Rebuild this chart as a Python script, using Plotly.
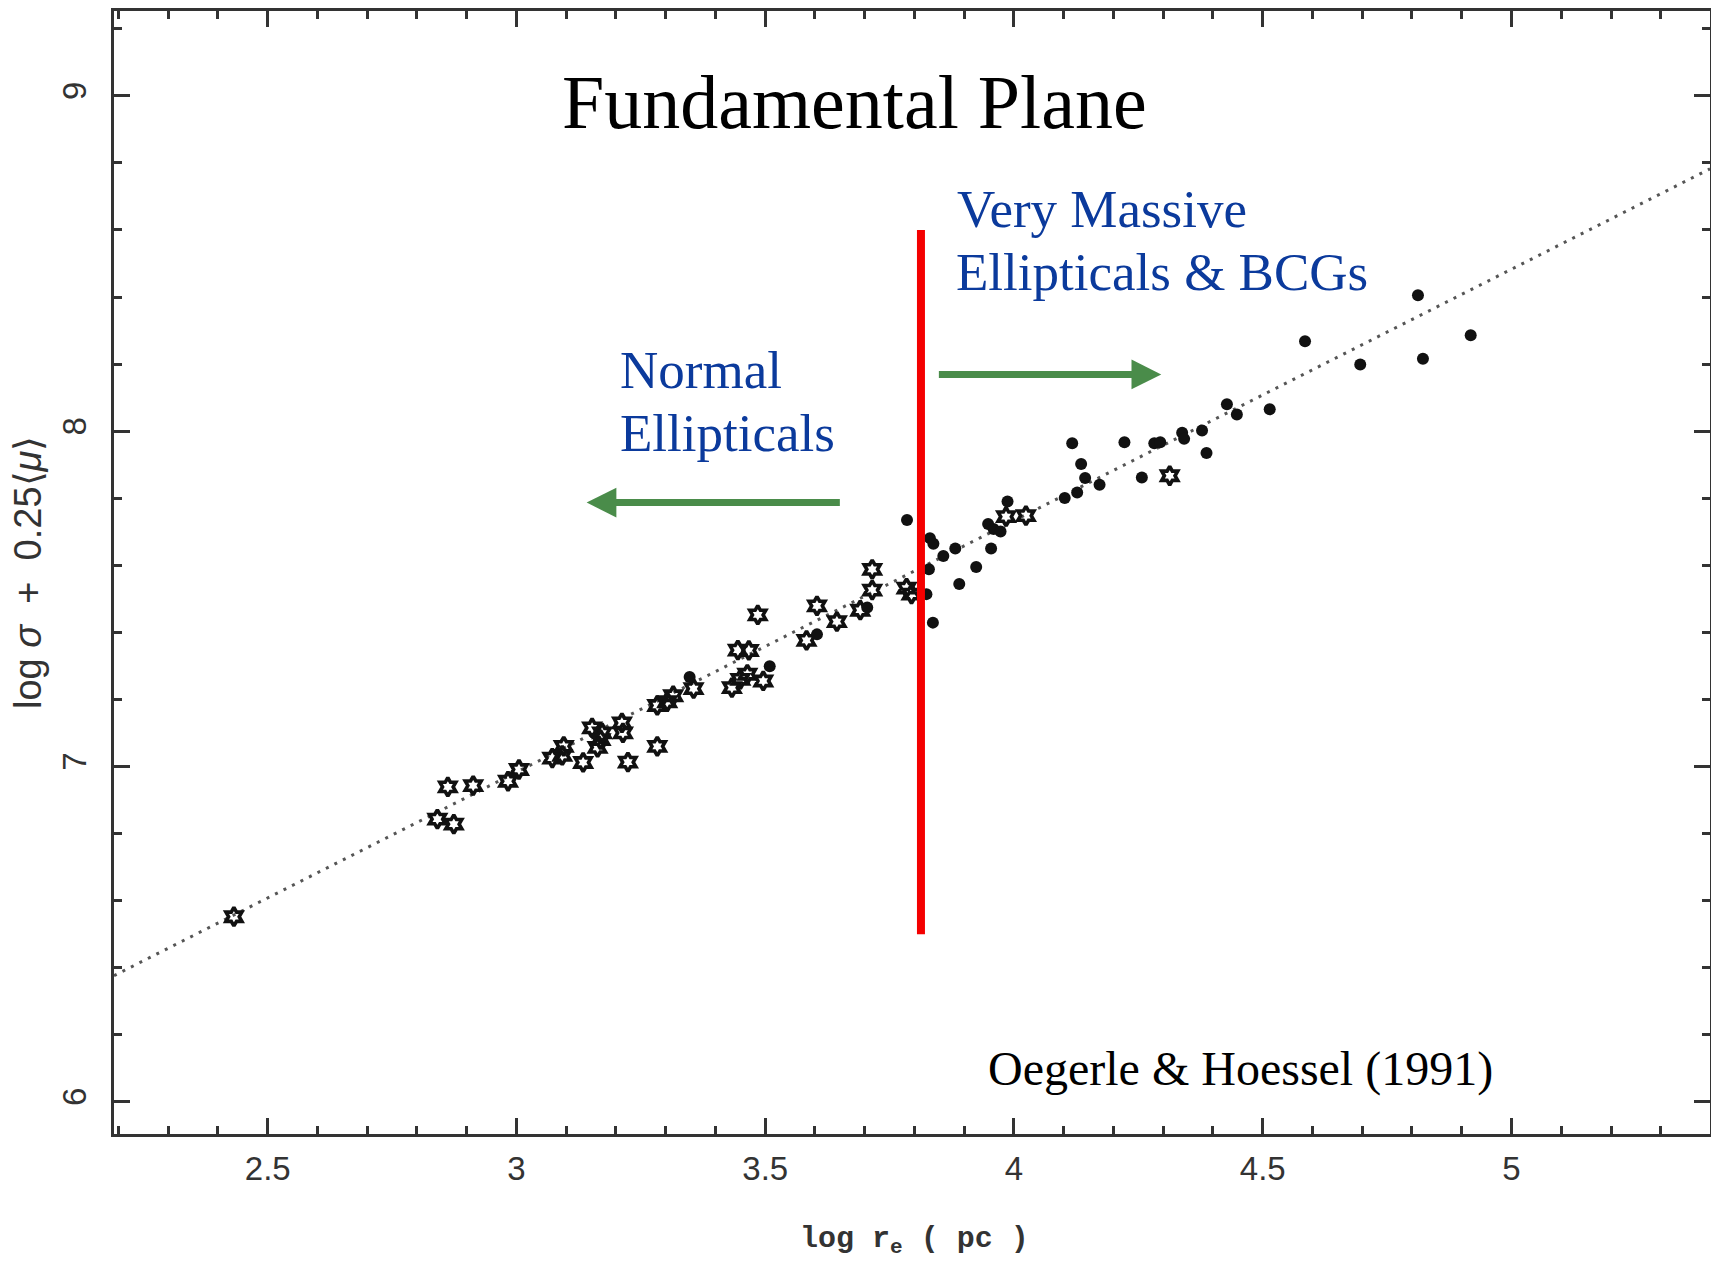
import plotly.graph_objects as go

# ---- data: log r_e (pc) vs log sigma + 0.25<mu> ----
# Normal ellipticals (open hexagrams)
normal_log_re = [2.432, 2.841, 2.874, 2.862, 2.913, 2.983, 3.005, 3.072, 3.092, 3.095,
                 3.134, 3.152, 3.172, 3.163, 3.169, 3.212, 3.214, 3.224, 3.283, 3.283,
                 3.303, 3.315, 3.356, 3.433, 3.450, 3.464, 3.496, 3.445, 3.467, 3.485,
                 3.583, 3.604, 3.644, 3.691, 3.715, 3.715, 3.784, 3.794, 3.984, 4.024,
                 4.313]
normal_fp = [6.552, 6.843, 6.828, 6.939, 6.943, 6.956, 6.991, 7.025, 7.033, 7.060,
             7.012, 7.115, 7.100, 7.057, 7.080, 7.130, 7.100, 7.013, 7.060, 7.182,
             7.193, 7.211, 7.232, 7.235, 7.260, 7.275, 7.255, 7.347, 7.346, 7.452,
             7.376, 7.479, 7.432, 7.466, 7.588, 7.526, 7.532, 7.514, 7.745, 7.748,
             7.867]

# Brightest cluster galaxies (filled circles)
bcg_log_re = [3.348, 3.509, 3.604, 3.705, 3.785, 3.824, 3.831, 3.838, 3.829, 3.837,
              3.858, 3.882, 3.890, 3.924, 3.954, 3.948, 3.959, 3.973, 3.987, 4.102,
              4.127, 4.172, 4.143, 4.135, 4.117, 4.222, 4.257, 4.282, 4.294, 4.338,
              4.342, 4.378, 4.387, 4.428, 4.448, 4.514, 4.585, 4.696, 4.812, 4.822,
              4.918]
bcg_fp = [7.267, 7.299, 7.394, 7.474, 7.735, 7.514, 7.681, 7.664, 7.588, 7.429,
          7.628, 7.650, 7.544, 7.595, 7.650, 7.723, 7.708, 7.701, 7.790, 7.801,
          7.817, 7.840, 7.860, 7.902, 7.964, 7.967, 7.862, 7.964, 7.967, 7.995,
          7.977, 8.002, 7.935, 8.080, 8.050, 8.065, 8.268, 8.199, 8.405, 8.216,
          8.286]

# Fitted plane: y = slope * x + intercept
fit_slope = 0.75
fit_intercept = 4.733

# Axes
x_tickvals = [2.5, 3, 3.5, 4, 4.5, 5]
x_ticktext = ["2.5", "3", "3.5", "4", "4.5", "5"]
y_tickvals = [6, 7, 8, 9]
y_ticktext = ["6", "7", "8", "9"]
X_RANGE = [2.191, 5.399]
Y_RANGE = [5.904, 9.253]

# Divider between the two populations
split_log_re = 3.813
split_span = [6.5, 8.6]

# ---- layout geometry ----
W, H = 1711, 1263
M_L, M_R, M_T, M_B = 114, 1, 11, 129


def paper_x(px):
    return (px - M_L) / (W - M_L - M_R)


def paper_y(py):
    return (H - M_B - py) / (H - M_T - M_B)


AXIS_COLOR = "#333333"
BLUE = "#0b3a9c"
GREEN = "#4a8c4a"
RED = "#f40000"
INK = "#111111"

fit_x = X_RANGE
fit_y = [fit_slope * v + fit_intercept for v in fit_x]

fig = go.Figure()

fig.add_trace(go.Scatter(
    x=fit_x, y=fit_y, mode="lines",
    line=dict(color="#555555", width=3, dash="3px,6.5px"),
    hoverinfo="skip", showlegend=False,
))

fig.add_trace(go.Scatter(
    x=normal_log_re, y=normal_fp, mode="markers", name="Normal Ellipticals",
    marker=dict(symbol="hexagram-open", size=14, color=INK, line=dict(width=3.6, color=INK)),
    showlegend=False,
))

fig.add_trace(go.Scatter(
    x=bcg_log_re, y=bcg_fp, mode="markers", name="Very Massive Ellipticals & BCGs",
    marker=dict(symbol="circle", size=12, color=INK, line=dict(width=0)),
    showlegend=False,
))

# red divider
fig.add_shape(type="line", xref="x", yref="y",
              x0=split_log_re, x1=split_log_re, y0=split_span[0], y1=split_span[1],
              line=dict(color=RED, width=8))

annotations = []

# direction arrows
annotations.append(dict(
    xref="x", yref="y", axref="x", ayref="y",
    x=4.296, y=8.169, ax=3.846, ay=8.169, text="",
    showarrow=True, arrowhead=2, arrowsize=0.85, arrowwidth=7, arrowcolor=GREEN,
))
annotations.append(dict(
    xref="x", yref="y", axref="x", ayref="y",
    x=3.141, y=7.787, ax=3.653, ay=7.787, text="",
    showarrow=True, arrowhead=2, arrowsize=0.85, arrowwidth=7, arrowcolor=GREEN,
))


def label(text, px, py, size, color, family="Liberation Serif", anchor="left"):
    annotations.append(dict(
        xref="paper", yref="paper", x=paper_x(px), y=paper_y(py),
        xanchor=anchor, yanchor="middle", text=text, showarrow=False,
        font=dict(family=family, size=size, color=color),
    ))


label("Fundamental Plane", 854, 102, 76, "#000000", anchor="center")
label("Very Massive", 955, 209, 53, BLUE)
label("Ellipticals &amp; BCGs", 954, 272, 53, BLUE)
label("Normal", 618, 370, 53, BLUE)
label("Ellipticals", 618, 433, 53, BLUE)
label("Oegerle &amp; Hoessel (1991)", 986, 1069, 48, "#000000")

# axis titles
annotations.append(dict(
    xref="paper", yref="paper", x=paper_x(915), y=paper_y(1240),
    xanchor="center", yanchor="middle", showarrow=False,
    text="<b>log r<sub>e</sub> ( pc )</b>",
    font=dict(family="Liberation Mono", size=30, color="#333333"),
))
annotations.append(dict(
    xref="paper", yref="paper", x=paper_x(28), y=paper_y(573),
    xanchor="center", yanchor="middle", showarrow=False, textangle=-90,
    text="log <i>σ</i>  +  0.25⟨<i>μ</i>⟩",
    font=dict(family="Liberation Sans", size=38, color="#333333"),
))

axis_common = dict(
    showgrid=False, zeroline=False, showline=True, linecolor=AXIS_COLOR, linewidth=3,
    mirror="allticks", ticks="inside", tickcolor=AXIS_COLOR, tickwidth=2.5,
    tickfont=dict(family="Liberation Sans", size=33, color="#333333"),
)

fig.update_xaxes(
    range=X_RANGE, tickmode="array", tickvals=x_tickvals, ticktext=x_ticktext,
    ticklen=16, ticklabelstandoff=3,
    minor=dict(dtick=0.1, ticks="inside", ticklen=8, tickcolor=AXIS_COLOR, tickwidth=2.5, showgrid=False),
    **axis_common,
)
fig.update_yaxes(
    range=Y_RANGE, tickmode="array", tickvals=y_tickvals, ticktext=y_ticktext,
    ticklen=16, tickangle=-90, ticklabelstandoff=12,
    minor=dict(dtick=0.2, ticks="inside", ticklen=8, tickcolor=AXIS_COLOR, tickwidth=2.5, showgrid=False),
    **axis_common,
)

fig.update_layout(
    width=W, height=H,
    margin=dict(l=M_L, r=M_R, t=M_T, b=M_B, autoexpand=False),
    paper_bgcolor="white", plot_bgcolor="white",
    showlegend=False,
    annotations=annotations,
)

fig.write_html("out.html")
